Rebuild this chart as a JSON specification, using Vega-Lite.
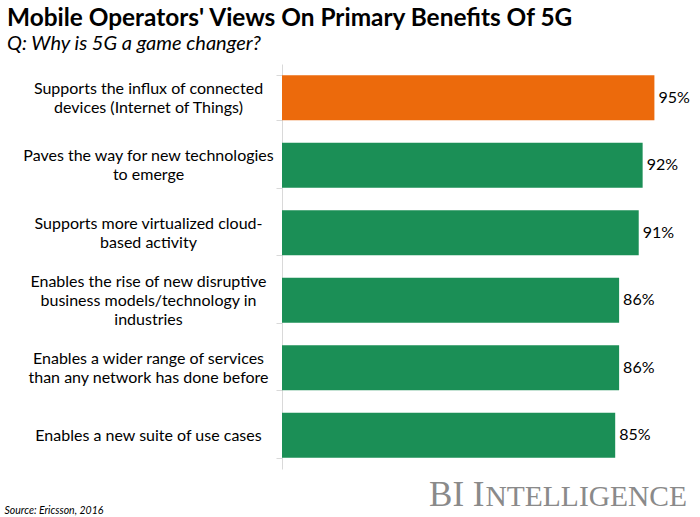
{
  "$schema": "https://vega.github.io/schema/vega-lite/v6.json",
  "width": 392,
  "height": 405,
  "autosize": {"type": "none"},
  "padding": {"left": 282, "top": 64, "right": 26, "bottom": 48},
  "background": "white",
  "config": {"view": {"stroke": null}},
  "title": {
    "text": "Mobile Operators' Views On Primary Benefits Of 5G",
    "subtitle": "Q: Why is 5G a game changer?",
    "anchor": "start",
    "frame": "group",
    "dx": -275,
    "offset": 1,
    "font": "Lato",
    "fontSize": 24.4,
    "fontWeight": "bold",
    "color": "black",
    "subtitleFont": "Lato",
    "subtitleFontStyle": "italic",
    "subtitleFontSize": 20,
    "subtitleColor": "black",
    "subtitlePadding": 3
  },
  "data": {
    "values": [
      {"benefit": "Supports the influx of connected|devices (Internet of Things)", "share": 0.95},
      {"benefit": "Paves the way for new technologies|to emerge", "share": 0.92},
      {"benefit": "Supports more virtualized cloud-|based activity", "share": 0.91},
      {"benefit": "Enables the rise of new disruptive|business models/technology in|industries", "share": 0.86},
      {"benefit": "Enables a wider range of services|than any network has done before", "share": 0.86},
      {"benefit": "Enables a new suite of use cases", "share": 0.85}
    ]
  },
  "resolve": {"axis": {"x": "independent"}},
  "layer": [
    {
      "mark": {"type": "bar"},
      "encoding": {
        "y": {
          "field": "benefit",
          "type": "nominal",
          "sort": null,
          "scale": {"paddingInner": 0.333, "paddingOuter": 0.1667},
          "axis": {
            "title": "BI I",
            "titleAngle": 0,
            "titleX": 202,
            "titleY": 441,
            "titleAlign": "right",
            "titleBaseline": "alphabetic",
            "titleFont": "Liberation Serif",
            "titleFontSize": 35,
            "titleFontWeight": "normal",
            "titleColor": "#8a8a8a",
            "labelExpr": "split(datum.label, '|')",
            "labelAlign": "center",
            "labelBaseline": "middle",
            "labelOffset": {
              "condition": [
                {"test": "length(split(datum.label, '|')) == 3", "value": -19},
                {"test": "length(split(datum.label, '|')) == 2", "value": -9.5}
              ],
              "value": 0
            },
            "labelPadding": 128,
            "labelFont": "Lato",
            "labelFontSize": 16,
            "labelLineHeight": 19,
            "labelColor": "black",
            "labelLimit": 0,
            "domainColor": "#d9d9d9",
            "tickColor": "#d9d9d9",
            "tickSize": 6,
            "tickBand": "extent",
            "grid": false
          }
        },
        "x": {
          "field": "share",
          "type": "quantitative",
          "scale": {"domain": [0, 1]},
          "axis": {
            "title": "Source: Ericsson, 2016",
            "labels": false,
            "ticks": false,
            "domain": false,
            "grid": false,
            "titleX": -278,
            "titleY": 44,
            "titleAlign": "left",
            "titleAnchor": null,
            "titleBaseline": "alphabetic",
            "titleFont": "Lato",
            "titleFontSize": 10.5,
            "titleFontStyle": "italic",
            "titleFontWeight": "normal",
            "titleColor": "black"
          }
        },
        "color": {
          "condition": {"test": "datum.share >= 0.95", "value": "#EC6A0C"},
          "value": "#1B8F56"
        }
      }
    },
    {
      "mark": {"type": "text", "align": "left", "baseline": "middle", "dx": 4, "font": "Lato", "fontSize": 16, "color": "black"},
      "encoding": {
        "y": {"field": "benefit", "type": "nominal", "sort": null},
        "x": {
          "field": "share",
          "type": "quantitative",
          "axis": {
            "orient": "bottom",
            "title": "NTELLIGENCE",
            "labels": false,
            "ticks": false,
            "domain": false,
            "grid": false,
            "titleX": 203,
            "titleY": 36,
            "titleAlign": "left",
            "titleAnchor": null,
            "titleBaseline": "alphabetic",
            "titleFont": "Liberation Serif",
            "titleFontSize": 29.5,
            "titleFontWeight": "normal",
            "titleColor": "#8a8a8a"
          }
        },
        "text": {"field": "share", "type": "quantitative", "format": ".0%"}
      }
    }
  ]
}
